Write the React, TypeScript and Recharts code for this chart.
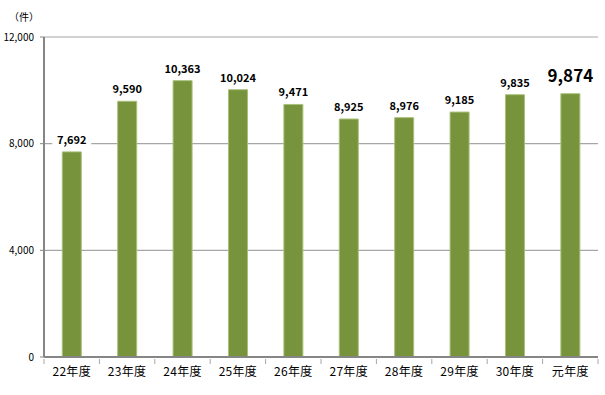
import { BarChart, Bar, XAxis, YAxis, CartesianGrid, LabelList } from 'recharts';

const YEARS = ['22年度', '23年度', '24年度', '25年度', '26年度', '27年度', '28年度', '29年度', '30年度', '元年度'];
const CASES = [7692, 9590, 10363, 10024, 9471, 8925, 8976, 9185, 9835, 9874];
const Y_TICKS = [0, 4000, 8000, 12000];

const data = YEARS.map((year, i) => ({ year, cases: CASES[i] }));

const FONT = '"Noto Sans CJK JP", "Liberation Sans", sans-serif';
const BAND = (605 - 44 - 7) / YEARS.length;

// value label with white backing, last one is emphasised
const ValueLabel = (props: any) => {
  const { x, y, width, value, index } = props;
  const last = index === CASES.length - 1;
  const text = Number(value).toLocaleString('en-US');
  const size = last ? 17 : 11;
  const cx = x + width / 2;
  const cy = y - (last ? 19 : 13);
  const w = text.length * size * 0.6 + 6;
  return (
    <g>
      <rect x={cx - w / 2} y={cy - size / 2 - 1} width={w} height={size + 2} fill="#fff" />
      <text x={cx} y={cy} textAnchor="middle" dominantBaseline="central" fontSize={size} fontWeight="bold" fill="#000" fontFamily={FONT}>
        {text}
      </text>
    </g>
  );
};

// category label, with tick marks on the band edges
const YearTick = (props: any) => {
  const { x, y, payload, index } = props;
  const left = x - BAND / 2;
  return (
    <g>
      <line x1={left} y1={y - 5} x2={left} y2={y} stroke="#a6a6a6" />
      {index === YEARS.length - 1 && <line x1={left + BAND} y1={y - 5} x2={left + BAND} y2={y} stroke="#a6a6a6" />}
      <text x={x} y={y + 12} textAnchor="middle" fontSize={12} fill="#000" fontFamily={FONT} letterSpacing={0.3}>
        {payload.value}
      </text>
    </g>
  );
};

export default function App() {
  return (
    <div style={{ position: 'absolute', left: 0, top: 0, width: 605, height: 395, background: '#fff', fontFamily: FONT }}>
      <div style={{ position: 'absolute', left: 9, top: 9, fontSize: 10, color: '#000' }}>（件）</div>
      <BarChart width={605} height={395} data={data} margin={{ top: 37, right: 7, left: 0, bottom: 8 }} barCategoryGap="33%">
        <CartesianGrid vertical={false} stroke="#a6a6a6" strokeWidth={1.2} />
        <XAxis
          dataKey="year"
          stroke="#868686"
          strokeWidth={2}
          tickLine={false}
          tickSize={5}
          height={30}
          interval={0}
          tick={YearTick}
        />
        <YAxis
          width={44}
          domain={[0, 12000]}
          ticks={Y_TICKS}
          stroke="#868686"
          strokeWidth={2}
          tickLine={{ stroke: '#868686', strokeWidth: 1 }}
          tickSize={4}
          tickFormatter={(v: number) => v.toLocaleString('en-US')}
          tick={{ fill: '#000', fontSize: 10, fontFamily: FONT, dx: -4 }}
        />
        <Bar dataKey="cases" fill="#77933c" stroke="#a9c07a" strokeWidth={1} isAnimationActive={false}>
          <LabelList dataKey="cases" content={ValueLabel} />
        </Bar>
      </BarChart>
    </div>
  );
}
